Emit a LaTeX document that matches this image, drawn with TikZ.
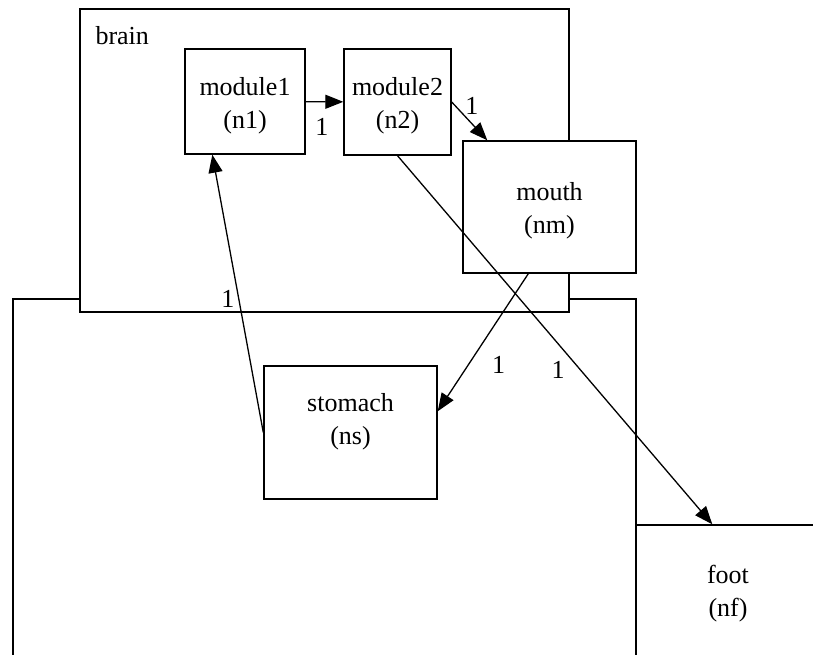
\documentclass[tikz,border=0pt]{standalone}
\usepackage{fontspec}
\setmainfont{Liberation Serif}
\usetikzlibrary{arrows.meta,calc}

\begin{document}
\begin{tikzpicture}[x=1pt,y=-1pt,
		box/.style={draw, fill=white, line width=1.4pt, inner sep=0pt},
		txt/.style={font=\fontsize{26}{33}\selectfont, align=center, inner sep=0pt},
		wt/.style={font=\fontsize{26}{33}\selectfont, inner sep=0pt},
		arr/.style={line width=1.3pt, -{Triangle[length=18pt,width=14pt]}}]
			\useasboundingbox (0,0) rectangle (813,655);
			\clip (0,0) rectangle (813,655);
			% outer parts
			\node[box, minimum width=623pt, minimum height=420pt] (body) at (324.5,509) {};
			\node[box, minimum width=489pt, minimum height=303pt,
				label={[wt, anchor=north west, xshift=16pt, yshift=-18pt]north west:brain}] (brain) at (324.5,160.5) {};
			% inner parts
			\node[box, minimum width=120pt, minimum height=105pt,
				label={[txt, yshift=-4pt]center:module1\\(n1)}] (module1) at (245,101.5) {};
			\node[box, minimum width=107pt, minimum height=106pt,
				label={[txt, yshift=-4pt]center:module2\\(n2)}] (module2) at (397.5,102) {};
			\node[box, minimum width=173pt, minimum height=132pt,
				label={[txt, yshift=-4pt]center:mouth\\(nm)}] (mouth) at (549.5,207) {};
			\node[box, minimum width=173pt, minimum height=133pt,
				label={[txt, yshift=11pt]center:stomach\\(ns)}] (stomach) at (350.5,432.5) {};
			\node[box, minimum width=184pt, minimum height=138pt,
				label={[txt]center:foot\\(nf)}] (foot) at (728,594) {};
			% links
			\draw[arr] (module1) -- (module2) node[wt, pos=0.43, yshift=-25pt] (w1) {1};
			\draw[arr] (module2.east) -- ($(mouth.north west)+(25,0)$) node[wt, pos=0.57, yshift=18pt] (w2) {1};
			\draw[arr] (module2.south) -- ($(foot.north west)+(77,0)$) node[wt, pos=0.51, yshift=-26pt] (w3) {1};
			\draw[arr] ($(mouth.south west)+(66,0)$) -- ($(stomach.north east)+(0,46)$) node[wt, pos=0.66, xshift=30pt] (w4) {1};
			\draw[arr] (stomach.west) -- ($(module1.south west)+(28,0)$) node[wt, pos=0.48, xshift=-11pt] (w5) {1};
\end{tikzpicture}
\end{document}
